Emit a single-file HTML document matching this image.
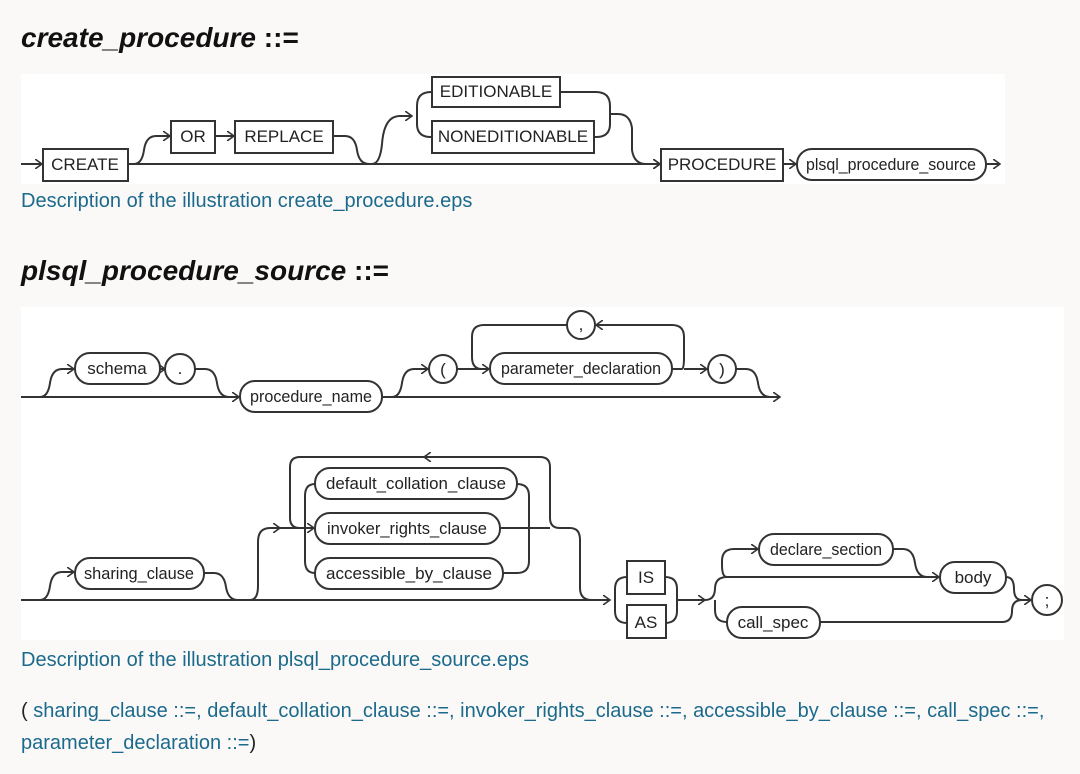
<!DOCTYPE html>
<html><head><meta charset="utf-8"><style>
html,body{margin:0;padding:0;background:#fbf9f8;}
svg{display:block}
.h{font-family:"Liberation Sans",sans-serif;font-size:28px;font-weight:bold;fill:#111}
.l{font-family:"Liberation Sans",sans-serif;font-size:20px;fill:#1b6a8c}
.t{font-family:"Liberation Sans",sans-serif;font-size:17px;fill:#222}
.s{fill:none;stroke:#333;stroke-width:2}
.b{fill:#fff;stroke:#333;stroke-width:2}
</style></head><body>
<svg width="1080" height="774" viewBox="0 0 1080 774" xmlns="http://www.w3.org/2000/svg">
<defs>
<marker id="a" markerWidth="8" markerHeight="10" refX="7" refY="5" orient="auto" markerUnits="userSpaceOnUse">
<path d="M0,0 L7,5 L0,10" fill="none" stroke="#333" stroke-width="1.6"/></marker>
</defs>
<text x="21" y="47" class="h"><tspan font-style="italic">create_procedure</tspan> ::=</text>
<rect x="21" y="74" width="984" height="110" fill="#fff"/>
<!-- diagram 1 -->
<g class="s">
<path d="M21 164 H42" marker-end="url(#a)"/>
<path d="M127 164 H372 M360 164 H660" marker-end="url(#a)"/>
<path d="M134 164 q8 0 10 -14 q2 -14 12 -14 H170" marker-end="url(#a)"/>
<path d="M215 136 H234" marker-end="url(#a)"/>
<path d="M333 136 h12 q10 0 12 14 q2 14 12 14"/>
<path d="M372 164 q8 0 10 -20 q2 -28 18 -28 H412" marker-end="url(#a)"/>
<path d="M431 92 q-14 0 -14 14 V124 q0 13 14 13"/>
<path d="M560 92 H596 q14 0 14 14 V124 q0 13 -14 13 H594"/>
<path d="M610 114 H618 q12 0 14 14 V150 q2 14 14 14 H660" marker-end="url(#a)"/>
<path d="M783 164 H796" marker-end="url(#a)"/>
<path d="M986 164 H1000" marker-end="url(#a)"/>
</g>
<rect class="b" x="43" y="149" width="85" height="32"/>
<text class="t" x="85" y="170" text-anchor="middle">CREATE</text>
<rect class="b" x="171" y="121" width="44" height="32"/>
<text class="t" x="193" y="142" text-anchor="middle">OR</text>
<rect class="b" x="235" y="121" width="98" height="32"/>
<text class="t" x="284" y="142" text-anchor="middle">REPLACE</text>
<rect class="b" x="432" y="77" width="128" height="30"/>
<text class="t" x="496" y="97" text-anchor="middle">EDITIONABLE</text>
<rect class="b" x="432" y="121" width="162" height="32"/>
<text class="t" x="513" y="142" text-anchor="middle">NONEDITIONABLE</text>
<rect class="b" x="661" y="149" width="122" height="32"/>
<text class="t" x="722" y="170" text-anchor="middle">PROCEDURE</text>
<rect class="b" x="797" y="149" width="189" height="31" rx="15"/>
<text class="t" x="891" y="170" text-anchor="middle" textLength="170" lengthAdjust="spacingAndGlyphs">plsql_procedure_source</text>
<text class="l" x="21" y="207">Description of the illustration create_procedure.eps</text>

<text x="21" y="280" class="h"><tspan font-style="italic">plsql_procedure_source</tspan> ::=</text>
<rect x="21" y="307" width="1043" height="333" fill="#fff"/>
<!-- row 1 -->
<g class="s">
<path d="M21 397 H780" marker-end="url(#a)"/>
<path d="M40 397 q8 0 10 -14 q2 -14 12 -14 H74" marker-end="url(#a)"/>
<path d="M160 369 H165" marker-end="url(#a)"/>
<path d="M195 369 h10 q10 0 12 14 q2 14 12 14 H239" marker-end="url(#a)"/>
<path d="M392 397 q8 0 10 -14 q2 -14 12 -14 H428" marker-end="url(#a)"/>
<path d="M457 369 H489" marker-end="url(#a)"/>
<path d="M482 369 q-10 0 -10 -12 V337 q0 -12 12 -12 H567"/>
<path d="M672 369 h10 q2 0 2 -12 V337 q0 -12 -12 -12 H596" marker-end="url(#a)"/>
<path d="M684 369 H707" marker-end="url(#a)"/>
<path d="M736 369 h10 q10 0 12 14 q2 14 12 14"/>
</g>
<rect class="b" x="75" y="353" width="85" height="31" rx="15"/>
<text class="t" x="117" y="374" text-anchor="middle">schema</text>
<circle class="b" cx="180" cy="369" r="15"/><text class="t" x="180" y="374" text-anchor="middle">.</text>
<rect class="b" x="240" y="381" width="142" height="31" rx="15"/>
<text class="t" x="311" y="402" text-anchor="middle" textLength="122" lengthAdjust="spacingAndGlyphs">procedure_name</text>
<circle class="b" cx="443" cy="369" r="14"/><text class="t" x="443" y="375" text-anchor="middle">(</text>
<rect class="b" x="490" y="353" width="182" height="31" rx="15"/>
<text class="t" x="581" y="374" text-anchor="middle" textLength="160" lengthAdjust="spacingAndGlyphs">parameter_declaration</text>
<circle class="b" cx="581" cy="325" r="14"/><text class="t" x="581" y="330" text-anchor="middle">,</text>
<circle class="b" cx="722" cy="369" r="14"/><text class="t" x="722" y="375" text-anchor="middle">)</text>
<!-- row 2 -->
<g class="s">
<path d="M21 600 H610" marker-end="url(#a)"/>
<path d="M40 600 q8 0 10 -14 q2 -14 12 -14 H74" marker-end="url(#a)"/>
<path d="M204 573 h10 q10 0 12 14 q2 13 12 13"/>
<path d="M250 600 q8 0 8 -14 V542 q0 -14 12 -14 H280" marker-end="url(#a)"/>
<path d="M280 528 H314" marker-end="url(#a)"/>
<path d="M300 528 q-10 0 -10 -10 V467 q0 -10 10 -10 H540 q10 0 10 10 V518 q0 10 10 10 H570 q10 0 10 12 V588 q0 12 12 12"/>
<path d="M430 457 H424" marker-end="url(#a)"/>
<path d="M315 484 q-10 0 -10 12 V561 q0 12 10 12"/>
<path d="M517 484 q12 0 12 12 V561 q0 12 -12 12 H503"/>
<path d="M500 528 H550"/>
<path d="M627 577 q-12 0 -12 12 V611 q0 12 12 12"/>
<path d="M665 577 q12 0 12 12 V611 q0 12 -12 12"/>
<path d="M677 600 H705" marker-end="url(#a)"/>
<path d="M705 600 q10 0 10 -12 V589 q0 -12 12 -12 H939" marker-end="url(#a)"/>
<path d="M715 600 V610 q0 12 12 12"/>
<path d="M727 577 q-5 0 -5 -12 V561 q0 -12 12 -12 H758" marker-end="url(#a)"/>
<path d="M893 549 h10 q10 0 12 14 q2 14 12 14"/>
<path d="M1006 577 q8 0 8 12 q0 11 8 11 H1031" marker-end="url(#a)"/>
<path d="M820 622 H1002 q10 0 10 -11 q0 -11 10 -11"/>
</g>
<rect class="b" x="75" y="558" width="129" height="31" rx="15"/>
<text class="t" x="139" y="579" text-anchor="middle" textLength="110" lengthAdjust="spacingAndGlyphs">sharing_clause</text>
<rect class="b" x="315" y="468" width="202" height="31" rx="15"/>
<text class="t" x="416" y="489" text-anchor="middle" textLength="180" lengthAdjust="spacingAndGlyphs">default_collation_clause</text>
<rect class="b" x="315" y="513" width="185" height="31" rx="15"/>
<text class="t" x="407" y="534" text-anchor="middle" textLength="160" lengthAdjust="spacingAndGlyphs">invoker_rights_clause</text>
<rect class="b" x="315" y="558" width="188" height="31" rx="15"/>
<text class="t" x="409" y="579" text-anchor="middle" textLength="166" lengthAdjust="spacingAndGlyphs">accessible_by_clause</text>
<rect class="b" x="627" y="561" width="38" height="33"/>
<text class="t" x="646" y="583" text-anchor="middle">IS</text>
<rect class="b" x="627" y="605" width="39" height="33"/>
<text class="t" x="646" y="628" text-anchor="middle">AS</text>
<rect class="b" x="759" y="534" width="134" height="31" rx="15"/>
<text class="t" x="826" y="555" text-anchor="middle" textLength="112" lengthAdjust="spacingAndGlyphs">declare_section</text>
<rect class="b" x="940" y="562" width="66" height="31" rx="15"/>
<text class="t" x="973" y="583" text-anchor="middle">body</text>
<rect class="b" x="727" y="607" width="93" height="31" rx="15"/>
<text class="t" x="773" y="628" text-anchor="middle">call_spec</text>
<circle class="b" cx="1047" cy="600" r="15"/><text class="t" x="1047" y="606" text-anchor="middle">;</text>

<text class="l" x="21" y="666">Description of the illustration plsql_procedure_source.eps</text>
<text class="l" x="21" y="717"><tspan fill="#222">( </tspan>sharing_clause ::=, default_collation_clause ::=, invoker_rights_clause ::=, accessible_by_clause ::=, call_spec ::=,</text>
<text class="l" x="21" y="749">parameter_declaration ::=<tspan fill="#222">)</tspan></text>
</svg>
</body></html>
